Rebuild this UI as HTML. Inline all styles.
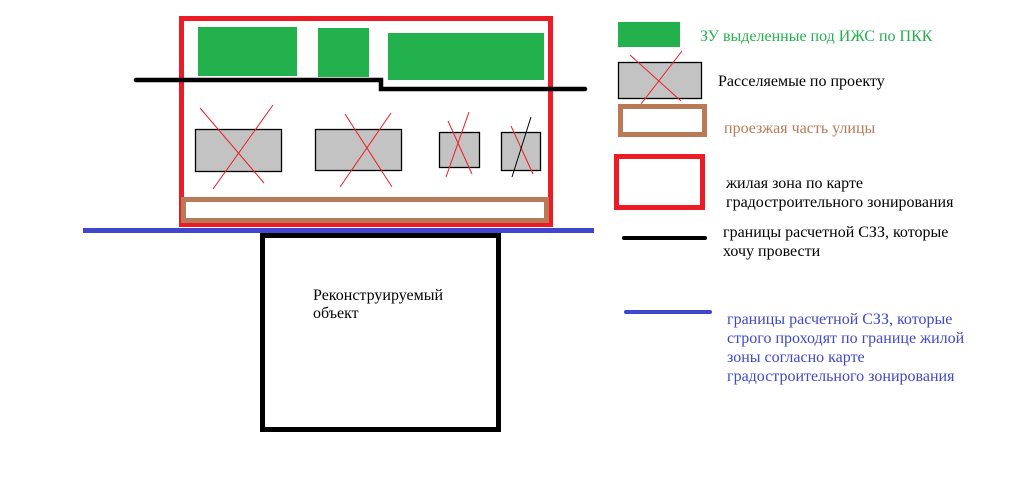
<!DOCTYPE html>
<html><head><meta charset="utf-8"><style>
html,body{margin:0;padding:0;background:#fff;}
svg{display:block}
text{font-family:"Liberation Serif",serif;font-size:16px;}
</style></head><body>
<svg width="1027" height="483" viewBox="0 0 1027 483" xmlns="http://www.w3.org/2000/svg">
<rect x="181.5" y="18.5" width="369" height="206" fill="none" stroke="#ed1c24" stroke-width="5"/>
<rect x="198" y="27" width="99" height="49" fill="#22b14c"/>
<rect x="318" y="28" width="51" height="49" fill="#22b14c"/>
<rect x="388" y="33" width="156" height="47" fill="#22b14c"/>
<polyline points="136,80 381,80 381,89 585,89" fill="none" stroke="#000" stroke-width="4.5" stroke-linecap="round"/>
<g fill="#c3c3c3" stroke="#000" stroke-width="1.3">
<rect x="195.5" y="129.5" width="86" height="42"/>
<rect x="315.5" y="129.5" width="86" height="41"/>
<rect x="439.5" y="132.5" width="40" height="35"/>
<rect x="501.5" y="132.5" width="39" height="38"/>
</g>
<g stroke="#ed1c24" stroke-width="1">
<line x1="200" y1="108" x2="264" y2="183"/>
<line x1="273" y1="105" x2="213" y2="189"/>
<line x1="345" y1="114" x2="392" y2="187"/>
<line x1="391" y1="113" x2="340" y2="187"/>
<line x1="448" y1="121" x2="472" y2="174"/>
<line x1="469" y1="112" x2="446" y2="177"/>
<line x1="511" y1="126" x2="533" y2="174"/>
</g>
<line x1="531" y1="117" x2="512" y2="177" stroke="#000" stroke-width="1"/>
<rect x="183.5" y="199.5" width="363" height="21" fill="none" stroke="#b97a57" stroke-width="5"/>
<rect x="83" y="228" width="511" height="5" fill="#3f48cc"/>
<rect x="262.5" y="235.5" width="236" height="194" fill="none" stroke="#000" stroke-width="5"/>
<text x="313" y="300">Реконструируемый</text>
<text x="313" y="318">объект</text>

<rect x="618" y="22" width="62" height="25" fill="#22b14c"/>
<text x="700" y="41" fill="#22b14c">ЗУ выделенные под ИЖС по ПКК</text>

<rect x="618.5" y="62.5" width="83" height="36" fill="#c3c3c3" stroke="#000" stroke-width="1.3"/>
<line x1="630" y1="55" x2="681" y2="101" stroke="#ed1c24" stroke-width="1"/>
<line x1="682" y1="51" x2="641" y2="104" stroke="#ed1c24" stroke-width="1"/>
<text x="718" y="86">Расселяемые по проекту</text>

<rect x="620.5" y="106.5" width="84" height="28" fill="none" stroke="#b97a57" stroke-width="5"/>
<text x="724" y="133" fill="#b97a57">проезжая часть улицы</text>

<rect x="616.5" y="156.5" width="86" height="51" fill="none" stroke="#ed1c24" stroke-width="5"/>
<text x="726" y="188">жилая зона по карте</text>
<text x="726" y="207">градостроительного зонирования</text>

<line x1="624" y1="238" x2="705" y2="238" stroke="#000" stroke-width="4" stroke-linecap="round"/>
<text x="723" y="237">границы расчетной СЗЗ, которые</text>
<text x="723" y="256">хочу провести</text>

<line x1="626" y1="312" x2="710" y2="312" stroke="#3f48cc" stroke-width="4" stroke-linecap="round"/>
<g fill="#3f48cc">
<text x="727" y="324">границы расчетной СЗЗ, которые</text>
<text x="727" y="343">строго проходят по границе жилой</text>
<text x="727" y="362">зоны согласно карте</text>
<text x="727" y="381">градостроительного зонирования</text>
</g>
</svg>
</body></html>
